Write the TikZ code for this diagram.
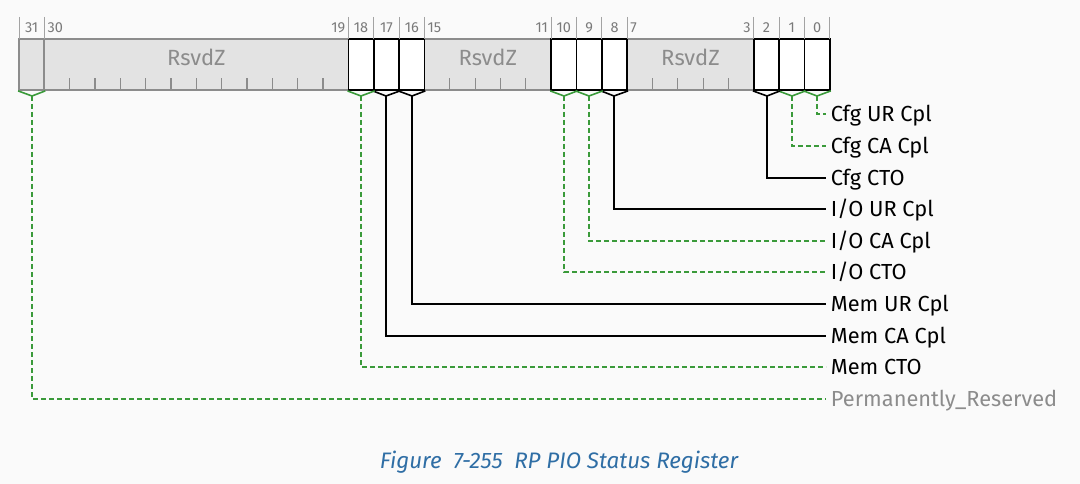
\documentclass[tikz,border=0pt]{standalone}
\usepackage{fontspec}
\setmainfont{Fira Sans}
\usetikzlibrary{calc}
\definecolor{pagebg}{HTML}{FAFAFA}
\definecolor{rsvdfill}{HTML}{E3E3E3}
\definecolor{rsvdline}{HTML}{8C8C8C}
\definecolor{numgray}{HTML}{7A7A7A}
\definecolor{rsvdgreen}{HTML}{3A9A3A}
\definecolor{capblue}{HTML}{2F6EA5}
% left edge of a bit, in pt
\newcommand{\bitx}[1]{(19+25.34*(31-(#1)))}
\tikzset{
  bitbox/.style={draw=black,line width=1.8pt,fill=white,minimum width=25.34pt,minimum height=51pt,inner sep=0pt},
  rsvdbox/.style={draw=rsvdline,line width=1.8pt,fill=rsvdfill,minimum height=51pt,inner sep=0pt},
  rsvdtick/.style={rsvdline,line width=1.2pt},
  rsvdtxt/.style={text=rsvdline,font=\fontsize{22}{26}\selectfont,inner sep=0pt},
  sepline/.style={rsvdline!80,line width=1pt},
  numc/.style={anchor=base,text=numgray,font=\fontsize{14.5}{17}\selectfont,inner sep=0pt},
  numl/.style={numc,anchor=base west,inner xsep=3pt},
  numr/.style={numc,anchor=base east,inner xsep=3pt},
  lbl/.style={anchor=west,font=\fontsize{21.8}{26}\selectfont,text height=15pt,text depth=0pt,inner ysep=0pt,inner xsep=4.7pt},
  gtip/.style={rsvdgreen,line width=1.6pt},
  glink/.style={rsvdgreen,line width=1.6pt,dash pattern=on 5pt off 3pt},
  ktip/.style={black,line width=1.6pt},
  klink/.style={black,line width=1.6pt},
  caption/.style={anchor=base,text=capblue,font=\fontsize{22.4}{26}\selectfont\itshape}
}
\begin{document}
\begin{tikzpicture}[x=1pt,y=-1pt]
  \fill[pagebg] (0,0) rectangle (1080,484);
  \useasboundingbox (0,0) rectangle (1080,484);
  % reserved fields
  \node[rsvdbox,minimum width=25.34pt] (b31) at ({\bitx{31}+12.67},64.5) {};
  \node[rsvdbox,minimum width=304.08pt] (f30) at ({\bitx{30}+152.04},64.5) {};
  \node[rsvdbox,minimum width=126.7pt] (f15) at ({\bitx{15}+63.35},64.5) {};
  \node[rsvdbox,minimum width=126.7pt] (f7) at ({\bitx{7}+63.35},64.5) {};
  \foreach \k in {29,...,19,14,13,12,11,6,5,4,3}
    \draw[rsvdtick] ({\bitx{\k}},90) -- ++(0,-12);
  \foreach \f in {30,15,7}
    \node[rsvdtxt] (r\f) at ([yshift=7.5pt]f\f.center) {RsvdZ};
  % single bits
  \foreach \b in {18,17,16,10,9,8,2,1,0}
    \node[bitbox] (b\b) at ({\bitx{\b}+12.67},64.5) {};
  % bit numbers
  \foreach \x in {31,30,18,17,16,15,10,9,8,7,2,1,0,-1}
    \draw[sepline] ({\bitx{\x}},17) -- ({\bitx{\x}},39);
  \foreach \b in {31,18,17,16,10,9,8,2,1,0}
    \node[numc] (n\b) at ({\bitx{\b}+12.67},32.7) {\b};
  \foreach \b in {30,15,7}
    \node[numl] (n\b) at ({\bitx{\b}},32.7) {\b};
  \foreach \b in {19,11,3}
    \node[numr] (n\b) at ({\bitx{\b}+25.34},32.7) {\b};
  % field names
  \node[lbl] (l0) at (826,114) {Cfg UR Cpl};
  \node[lbl] (l1) at (826,146) {Cfg CA Cpl};
  \node[lbl] (l2) at (826,178) {Cfg CTO};
  \node[lbl] (l8) at (826,209) {I/O UR Cpl};
  \node[lbl] (l9) at (826,241) {I/O CA Cpl};
  \node[lbl] (l10) at (826,272) {I/O CTO};
  \node[lbl] (l16) at (826,304) {Mem UR Cpl};
  \node[lbl] (l17) at (826,336) {Mem CA Cpl};
  \node[lbl] (l18) at (826,367) {Mem CTO};
  \node[lbl,text=rsvdline] (l31) at (826,399) {Permanently\_Reserved};
  % connectors
  \foreach \b/\v/\k in {0/gtip/glink,1/gtip/glink,2/ktip/klink,8/ktip/klink,9/gtip/glink,
                        10/gtip/glink,16/ktip/klink,17/ktip/klink,18/gtip/glink,31/gtip/glink} {
    \coordinate (c\b) at ({round(\bitx{\b}+12.67)},96);
    \draw[\v] (b\b.south west) -- (c\b) -- (b\b.south east);
    \draw[\k] (c\b) |- (l\b.west);
  }
  \node[caption] (cap) at (559,468) {Figure\ \ 7-255\ \ RP PIO Status Register};
\end{tikzpicture}
\end{document}
